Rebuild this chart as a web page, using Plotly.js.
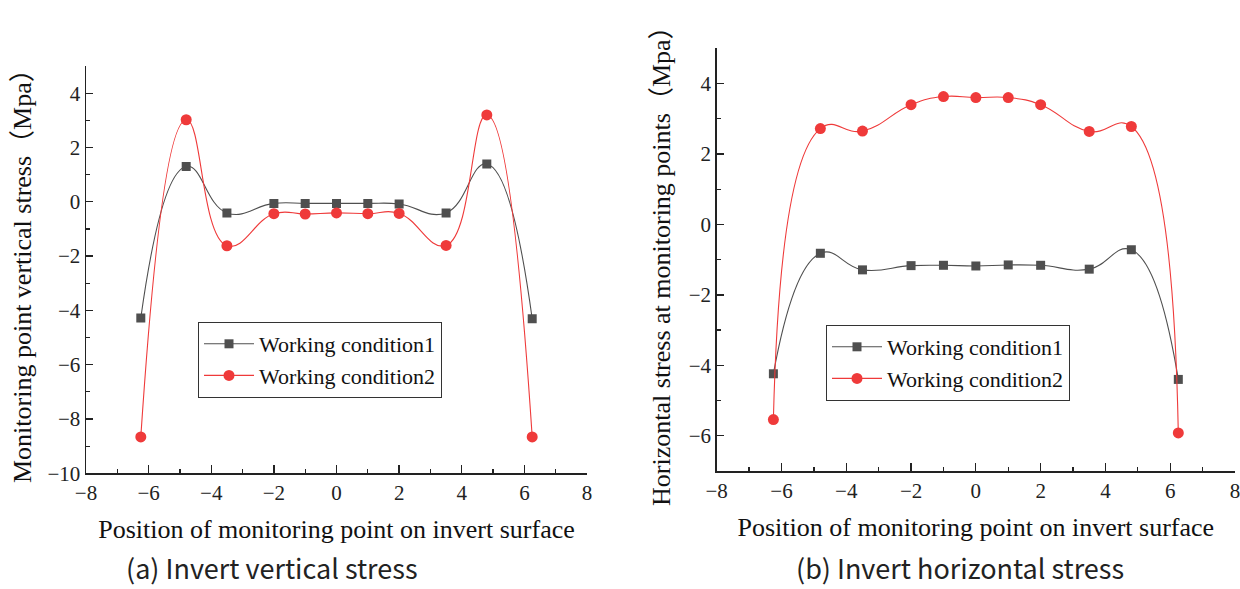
<!DOCTYPE html>
<html>
<head>
<meta charset="utf-8">
<script src="https://cdn.plot.ly/plotly-3.0.1.min.js"></script>
<style>html,body{margin:0;padding:0;background:#fff;}#chart{width:1240px;height:589px;}</style>
</head>
<body>
<div id="chart"></div>
<script>
// Monitoring point positions (shared by both panels)
const positions = [-6.25, -4.8, -3.5, -2, -1, 0, 1, 2, 3.5, 4.8, 6.25];
const seriesNames = ["Working condition1", "Working condition2"];

// (a) Invert vertical stress (MPa)
const verticalCond1 = [-4.28, 1.30, -0.41, -0.06, -0.06, -0.06, -0.06, -0.08, -0.41, 1.39, -4.31];
const verticalCond2 = [-8.66, 3.02, -1.62, -0.44, -0.45, -0.41, -0.44, -0.43, -1.61, 3.20, -8.66];

// (b) Invert horizontal stress (MPa)
const horizontalCond1 = [-4.24, -0.82, -1.29, -1.17, -1.16, -1.18, -1.15, -1.16, -1.27, -0.72, -4.40];
const horizontalCond2 = [-5.54, 2.72, 2.65, 3.40, 3.63, 3.60, 3.60, 3.40, 2.64, 2.78, -5.92];

const xTickVals = [-8, -6, -4, -2, 0, 2, 4, 6, 8];
const xTickText = ["\u22128", "\u22126", "\u22124", "\u22122", "0", "2", "4", "6", "8"];
const yTickValsA = [-10, -8, -6, -4, -2, 0, 2, 4];
const yTickTextA = ["\u221210", "\u22128", "\u22126", "\u22124", "\u22122", "0", "2", "4"];
const yTickValsB = [-6, -4, -2, 0, 2, 4];
const yTickTextB = ["\u22126", "\u22124", "\u22122", "0", "2", "4"];

const xTitle = "Position of monitoring point on invert surface";
const yTitleA = "Monitoring point vertical stress\uFF08Mpa\uFF09";
const yTitleB = "Horizontal stress at monitoring points\uFF08Mpa\uFF09";
const captionA = "(a) Invert vertical stress";
const captionB = "(b) Invert horizontal stress";

const GRAY = "#4f4f4f";
const RED = "#ef3a3a";
const SERIF = "'Liberation Serif', 'Times New Roman', 'Noto Sans CJK SC', serif";
const CAPFONT = "'Noto Sans CJK SC', 'Noto Sans', sans-serif";

function series(x, y, name, color, symbol, size, xa, ya, legend) {
  return {
    x: x, y: y, name: name, type: "scatter", mode: "lines+markers",
    xaxis: xa, yaxis: ya, legend: legend,
    line: {color: color, width: 1.1, shape: "spline", smoothing: 1.3},
    marker: {color: color, symbol: symbol, size: size, line: {width: 0}}
  };
}

const data = [
  series(positions, verticalCond1, seriesNames[0], GRAY, "square", 9, "x", "y", "legend"),
  series(positions, verticalCond2, seriesNames[1], RED, "circle", 11, "x", "y", "legend"),
  series(positions, horizontalCond1, seriesNames[0], GRAY, "square", 9, "x2", "y2", "legend2"),
  series(positions, horizontalCond2, seriesNames[1], RED, "circle", 11, "x2", "y2", "legend2")
];

const tickFont = {family: SERIF, size: 21, color: "#222"};
const titleFont = {family: SERIF, size: 26, color: "#111"};

function xAxis(domain, anchor) {
  return {
    domain: domain, anchor: anchor, range: [-8, 8],
    tickmode: "array", tickvals: xTickVals, ticktext: xTickText,
    ticks: "inside", ticklen: 8, tickwidth: 1.3, tickcolor: "#222",
    minor: {ticks: "inside", ticklen: 4, tickwidth: 1.3, tickcolor: "#222", dtick: 1, tick0: 0, showgrid: false},
    showline: true, linecolor: "#222", linewidth: 1.5,
    showgrid: false, zeroline: false, tickfont: tickFont, ticklabeloverflow: "allow",
    title: {text: xTitle, font: titleFont, standoff: 16}
  };
}
function yAxis(domain, anchor, range, vals, text, title, standoff) {
  return {
    domain: domain, anchor: anchor, range: range,
    tickmode: "array", tickvals: vals, ticktext: text,
    ticks: "inside", ticklen: 7, tickwidth: 1.3, tickcolor: "#222",
    minor: {ticks: "inside", ticklen: 4, tickwidth: 1.3, tickcolor: "#222", dtick: 1, tick0: 1, showgrid: false},
    showline: true, linecolor: "#222", linewidth: 1.5,
    showgrid: false, zeroline: false, tickfont: tickFont,
    title: {text: title, font: titleFont, standoff: standoff}
  };
}

const legendBase = {
  font: {family: SERIF, size: 22, color: "#111"},
  bordercolor: "#333", borderwidth: 1, bgcolor: "rgba(255,255,255,0)",
  xanchor: "left", yanchor: "top", tracegroupgap: 0, itemwidth: 50
};

const layout = {
  width: 1240, height: 589,
  margin: {l: 0, r: 0, t: 0, b: 0},
  paper_bgcolor: "#fff", plot_bgcolor: "#fff",
  showlegend: true,
  xaxis: xAxis([86/1240, 587/1240], "y"),
  yaxis: yAxis([(589-473.3)/589, (589-66)/589], "x", [-10, 5], yTickValsA, yTickTextA, yTitleA, 8),
  xaxis2: xAxis([716.7/1240, 1235/1240], "y2"),
  yaxis2: yAxis([(589-471)/589, (589-48.3)/589], "x2", [-7, 5], yTickValsB, yTickTextB, yTitleB, 10),
  legend: Object.assign({}, legendBase, {x: 198/1240, y: (589-322)/589}),
  legend2: Object.assign({}, legendBase, {x: 826/1240, y: (589-325)/589}),
  annotations: [
    {text: captionA, xref: "paper", yref: "paper", x: 272/1240, y: (589-567)/589, xanchor: "center", yanchor: "middle",
     showarrow: false, font: {family: CAPFONT, size: 27, color: "#222"}},
    {text: captionB, xref: "paper", yref: "paper", x: 960/1240, y: (589-567)/589, xanchor: "center", yanchor: "middle",
     showarrow: false, font: {family: CAPFONT, size: 27, color: "#222"}}
  ]
};

Plotly.newPlot("chart", data, layout, {displayModeBar: false, staticPlot: true});
</script>
</body>
</html>
